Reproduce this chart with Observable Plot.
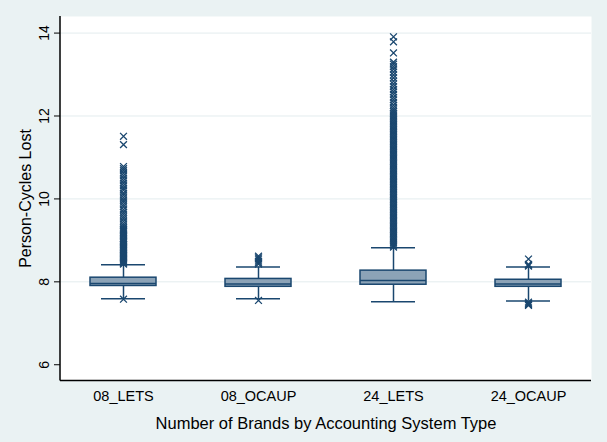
<!DOCTYPE html>
<html>
<head>
<meta charset="utf-8">
<script src="https://cdn.jsdelivr.net/npm/d3@7"></script>
<script src="https://cdn.jsdelivr.net/npm/@observablehq/plot@0.6"></script>
<style>
  html, body { margin: 0; padding: 0; background: #EAF2F3; }
  svg { display: block; }
</style>
</head>
<body>
<div id="chart"></div>
<script>
// ---- data ----
const categories = ["08_LETS", "08_OCAUP", "24_LETS", "24_OCAUP"];
const q1 = [7.90, 7.88, 7.93, 7.88];
const median = [7.96, 7.95, 8.03, 7.95];
const q3 = [8.10, 8.07, 8.27, 8.05];
const whiskerLow = [7.59, 7.59, 7.52, 7.54];
const whiskerHigh = [8.41, 8.36, 8.82, 8.36];

const outliers08LETS = [7.58,
  8.43, 8.45, 8.47, 8.49, 8.52, 8.54, 8.56, 8.58, 8.61, 8.63, 8.65, 8.68, 8.70, 8.73, 8.75,
  8.78, 8.81, 8.83, 8.86, 8.89, 8.91, 8.94, 8.97, 9.00, 9.03, 9.05, 9.09, 9.12, 9.15, 9.18,
  9.21, 9.24, 9.27, 9.30, 9.35, 9.40, 9.46, 9.52, 9.57, 9.63, 9.68, 9.74, 9.81, 9.86, 9.92,
  9.97, 10.03, 10.09, 10.14, 10.21, 10.26, 10.32, 10.38, 10.44, 10.50, 10.56, 10.62, 10.68,
  10.73, 10.78, 11.31, 11.51];
const outliers08OCAUP = [7.55, 8.43, 8.46, 8.50, 8.55, 8.58, 8.62];
const outliers24LETS = [
  8.84, 8.87, 8.91, 8.95, 8.99, 9.03, 9.07, 9.11, 9.15, 9.19, 9.23, 9.27, 9.31, 9.35, 9.39,
  9.43, 9.47, 9.51, 9.55, 9.59, 9.63, 9.67, 9.71, 9.75, 9.79, 9.83, 9.87, 9.91, 9.95, 9.99,
  10.03, 10.07, 10.11, 10.15, 10.19, 10.23, 10.27, 10.31, 10.35, 10.39, 10.43, 10.47, 10.51,
  10.55, 10.59, 10.63, 10.67, 10.71, 10.75, 10.79, 10.83, 10.87, 10.91, 10.95, 10.99, 11.03,
  11.07, 11.11, 11.15, 11.19, 11.23, 11.27, 11.31, 11.35, 11.39, 11.43, 11.47, 11.51, 11.55,
  11.59, 11.63, 11.67, 11.71, 11.75, 11.79, 11.83, 11.87, 11.91, 11.95, 11.99, 12.03, 12.07,
  12.11, 12.15, 12.20, 12.26, 12.33, 12.39, 12.45, 12.52, 12.58, 12.64, 12.71, 12.77, 12.84,
  12.92, 12.99, 13.06, 13.13, 13.19, 13.25, 13.30, 13.52, 13.79, 13.91];
const outliers24OCAUP = [7.43, 7.45, 7.48, 7.51, 8.38, 8.40, 8.42, 8.55];

const yTicks = [6, 8, 10, 12, 14];
const yGrid = [8, 10, 12, 14];
const yDomain = [5.62, 14.4];
const yTitle = "Person-Cycles Lost";
const xTitle = "Number of Brands by Accounting System Type";

// ---- tables built from the arrays ----
const boxes = categories.map((c, i) => ({
  cat: c, q1: q1[i], med: median[i], q3: q3[i], lo: whiskerLow[i], hi: whiskerHigh[i]
}));
const outlierLists = [outliers08LETS, outliers08OCAUP, outliers24LETS, outliers24OCAUP];
const outs = outlierLists.flatMap((list, i) => list.map(v => ({cat: categories[i], v})));

const navy = "#1A476F";
const boxFill = "#8CA3B7";
const font = "'Liberation Sans', Arial, sans-serif";

const leftAxisLine = (index, scales, values, dims) => {
  const g = d3.create("svg:line")
    .attr("x1", dims.marginLeft).attr("x2", dims.marginLeft)
    .attr("y1", dims.marginTop).attr("y2", dims.height - dims.marginBottom + 0.5)
    .attr("stroke", "black").attr("stroke-width", 1.5);
  return g.node();
};

const chart = Plot.plot({
  width: 607,
  height: 442,
  marginLeft: 60,
  marginRight: 16,
  marginTop: 16,
  marginBottom: 62,
  style: {background: "#EAF2F3", fontFamily: font, color: "black"},
  x: {domain: categories, type: "band", paddingInner: 0.51, paddingOuter: 0.22, label: null},
  y: {domain: yDomain, label: null},
  marks: [
    Plot.frame({fill: "white", stroke: null}),
    Plot.ruleY(yGrid, {stroke: "#E3ECEE", strokeWidth: 1}),
    // y ticks
    Plot.axisY({ticks: yTicks, tickSize: 6, tickFormat: () => "", stroke: "black", strokeWidth: 1}),
    Plot.text(yTicks, {y: d => d, frameAnchor: "left", dx: -12, rotate: -90,
      text: d => String(d), fontSize: 14, textAnchor: "middle", lineAnchor: "bottom", fill: "black"}),
    // x category labels
    Plot.axisX({tickSize: 0, tickPadding: 10, fontSize: 14.5, label: null, fill: "black"}),
    // whiskers
    Plot.ruleX(boxes, {x: "cat", y1: "lo", y2: "q1", stroke: navy, strokeWidth: 1.5}),
    Plot.ruleX(boxes, {x: "cat", y1: "q3", y2: "hi", stroke: navy, strokeWidth: 1.5}),
    Plot.tickY(boxes, {x: "cat", y: "lo", stroke: navy, strokeWidth: 1.5, insetLeft: 11, insetRight: 11}),
    Plot.tickY(boxes, {x: "cat", y: "hi", stroke: navy, strokeWidth: 1.5, insetLeft: 11, insetRight: 11}),
    // outliers
    Plot.dot(outs, {x: "cat", y: "v", symbol: "times", r: 3.2, stroke: navy, strokeWidth: 1.3}),
    // boxes
    Plot.barY(boxes, {x: "cat", y1: "q1", y2: "q3", fill: boxFill, stroke: navy, strokeWidth: 1.5}),
    Plot.tickY(boxes, {x: "cat", y: "med", stroke: navy, strokeWidth: 1.5}),
    // axis lines
    Plot.ruleY([yDomain[0]], {stroke: "black", strokeWidth: 1.5}),
    leftAxisLine,
    // titles
    Plot.text([yTitle], {frameAnchor: "left", dx: -35, rotate: -90, fontSize: 16,
      textAnchor: "middle", lineAnchor: "middle", fill: "black"}),
    Plot.text([xTitle], {frameAnchor: "bottom", dy: 43, fontSize: 16.5,
      textAnchor: "middle", lineAnchor: "middle", fill: "black"})
  ]
});
document.getElementById("chart").appendChild(chart);
</script>
</body>
</html>
